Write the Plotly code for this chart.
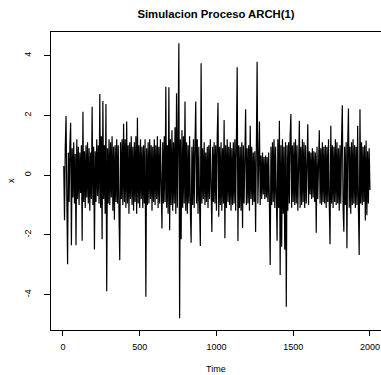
import numpy as np
import plotly.graph_objects as go

# Values (one value every 5 time units, t = 5 .. 2000)
x_values = [
    0.3, -1.51, 0.95, 1.98, -0.7, -2.99, 0.75, -0.9, 1.0, 1.75,
    -2.35, 0.9, -0.75, 1.1, -0.95, 0.7, -2.35, 1.2, -0.8, 0.95,
    -1.0, 0.75, -0.6, 1.0, -2.2, 2.12, -0.9, 0.8, -1.1, 1.0,
    -0.75, 1.1, -0.95, 0.9, -1.2, 0.75, -0.8, 2.29, -1.0, 0.95,
    -2.49, 0.8, -0.9, 1.2, -0.7, 1.0, -0.95, 2.71, -1.1, 1.3,
    -2.15, 2.48, -0.8, 1.0, -1.3, 2.38, -3.89, 0.9, -0.95, 1.2,
    -1.0, 1.1, -0.75, 1.3, -1.2, 0.95, -1.5, 1.0, -0.9, 1.2,
    -0.95, 1.0, -1.3, -2.85, 1.1, -0.8, 1.2, -1.0, 1.72, -0.9,
    1.2, -1.1, 1.79, -0.95, 1.0, -1.3, 1.1, -0.8, 1.3, -1.0,
    0.95, -1.2, 1.1, -0.9, 1.3, -1.3, 1.92, -0.95, 1.0, -1.1,
    1.2, -0.8, 0.95, -1.1, 1.0, -0.95, 1.2, -4.08, 0.9, -1.0,
    1.1, -0.95, 1.2, -0.8, 1.0, -1.2, 0.95, -0.9, 1.2, -1.0,
    1.0, -0.8, 1.3, -1.1, 0.95, -0.95, 1.2, -1.0, -1.79, 1.1,
    -0.95, 1.3, -0.9, 2.96, -1.1, 1.0, -1.3, 2.94, -1.85, 1.2,
    -1.0, 1.5, -1.2, 1.1, -0.95, 1.6, -1.3, 2.74, -1.1, 1.3,
    4.41, -4.8, 1.2, -2.15, 1.5, -1.1, 1.3, -0.95, 2.46, -1.2,
    1.1, -1.3, 1.0, -0.95, 1.3, -1.2, -2.27, 0.95, -1.0, 1.2,
    -1.1, 1.0, 2.46, -0.95, 1.2, -1.3, 0.95, -1.0, -2.38, 3.74,
    -0.95, 0.9, -0.8, 1.1, -1.0, 0.75, -0.9, 0.95, -1.1, 1.0,
    -0.8, 1.2, -1.0, -1.91, 0.95, -0.9, 1.1, -0.95, 1.0, -1.2,
    1.3, 2.42, -1.4, 0.95, -1.0, 1.1, -1.2, 0.9, -0.95, 1.84,
    -2.12, 1.0, -1.1, 1.2, -0.9, 0.95, -1.0, 1.1, -1.2, 0.9,
    -1.0, 1.1, -0.95, 1.2, -1.2, 0.95, 3.61, -2.21, 1.0, -1.1,
    0.95, -1.2, 1.1, -1.77, 1.0, -0.95, 1.2, 2.2, -1.0, 0.9,
    -0.95, 1.0, -1.2, 1.65, -0.8, 0.95, -1.0, 0.75, -0.9, 0.8,
    -1.91, 0.9, 3.79, -0.95, 0.8, 1.79, -1.0, 0.65, -0.8, 0.75,
    -0.65, 0.6, -0.8, 0.65, -0.75, 0.6, -0.9, 0.75, -0.95, -3.01,
    0.95, -1.0, 1.1, -0.9, 1.2, -1.1, 0.95, -1.0, -2.2, 1.2,
    -1.1, 1.82, -3.35, 1.0, -2.4, 1.2, -1.3, 0.95, -2.5, 1.1,
    -4.41, 1.0, -1.2, 1.1, -0.95, 1.3, 2.04, -1.1, 1.0, -0.9,
    1.1, -1.0, 1.2, -0.95, 1.0, -1.2, 1.3, 1.82, -1.1, 0.95,
    -1.0, 1.2, -0.9, 1.1, -1.1, 1.0, -0.95, 1.2, 1.7, -1.0,
    0.8, -0.65, 0.75, -0.8, 0.9, -0.75, 0.8, -0.9, 0.75, -1.93,
    0.95, -0.8, 1.0, 1.5, -0.95, 0.9, -1.0, 1.1, -0.9, 0.95,
    -0.95, 1.0, -1.1, 0.95, -0.9, 1.2, -1.0, -2.32, 1.65, -0.95,
    1.0, -1.1, 0.95, -0.9, 1.2, -1.0, 1.1, -0.95, 0.9, -1.2,
    1.0, -0.95, 1.2, 2.34, -1.1, -1.9, 0.95, -1.0, 1.1, -2.45,
    1.0, 2.23, -1.1, 0.95, -1.3, 1.1, -1.0, 1.2, -0.95, 1.0,
    -1.1, 0.95, -1.0, 1.65, -1.2, -2.68, 2.2, -0.95, 1.1, -1.0,
    0.95, -0.9, 1.0, -1.52, 1.16, -1.35, 0.8, -0.95, 0.9, -0.5,
]
time_values = np.arange(1, len(x_values) + 1) * 5

x_tick_vals = [0, 500, 1000, 1500, 2000]
y_tick_vals = [-4, -2, 0, 2, 4]

FONT = "Liberation Sans, Arial, sans-serif"

fig = go.Figure()
fig.add_trace(go.Scatter(
    x=time_values, y=x_values, mode="lines",
    line=dict(color="black", width=1.2),
    hoverinfo="skip", showlegend=False,
))

fig.update_layout(
    width=381, height=375,
    margin=dict(l=51, r=0, t=32, b=45),
    paper_bgcolor="white", plot_bgcolor="white",
    font=dict(family=FONT, size=9, color="black"),
    title=dict(text="<b>Simulacion Proceso ARCH(1)</b>",
               x=216 / 381, xanchor="center", y=1 - 14 / 375, yanchor="middle",
               font=dict(family=FONT, size=11.3, color="black")),
    annotations=[
        dict(text="Time", xref="paper", yref="paper", x=0.5, y=0,
             xanchor="center", yanchor="middle", yshift=-39, showarrow=False,
             font=dict(family=FONT, size=9)),
        dict(text="x", xref="paper", yref="paper", x=0, y=0.5,
             xanchor="center", yanchor="middle", xshift=-40, showarrow=False,
             textangle=-90, font=dict(family=FONT, size=9)),
    ],
)
fig.update_xaxes(
    range=[-78, 2072], tickvals=x_tick_vals, ticktext=[str(v) for v in x_tick_vals],
    ticks="outside", ticklen=5, tickcolor="black", tickwidth=1, ticklabelstandoff=3,
    showline=True, linecolor="black", linewidth=1, mirror=True,
    showgrid=False, zeroline=False, tickfont=dict(family=FONT, size=9),
)
fig.update_yaxes(
    range=[-5.19, 4.79], tickvals=y_tick_vals, ticktext=[str(v) for v in y_tick_vals],
    ticks="outside", ticklen=6, tickcolor="black", tickwidth=1, tickangle=-90,
    ticklabelstandoff=9,
    showline=True, linecolor="black", linewidth=1, mirror=True,
    showgrid=False, zeroline=False, tickfont=dict(family=FONT, size=9),
)

fig.write_html("out.html", config={"displayModeBar": False},
               post_script="document.body.style.margin='0';document.body.style.overflow='hidden';")
